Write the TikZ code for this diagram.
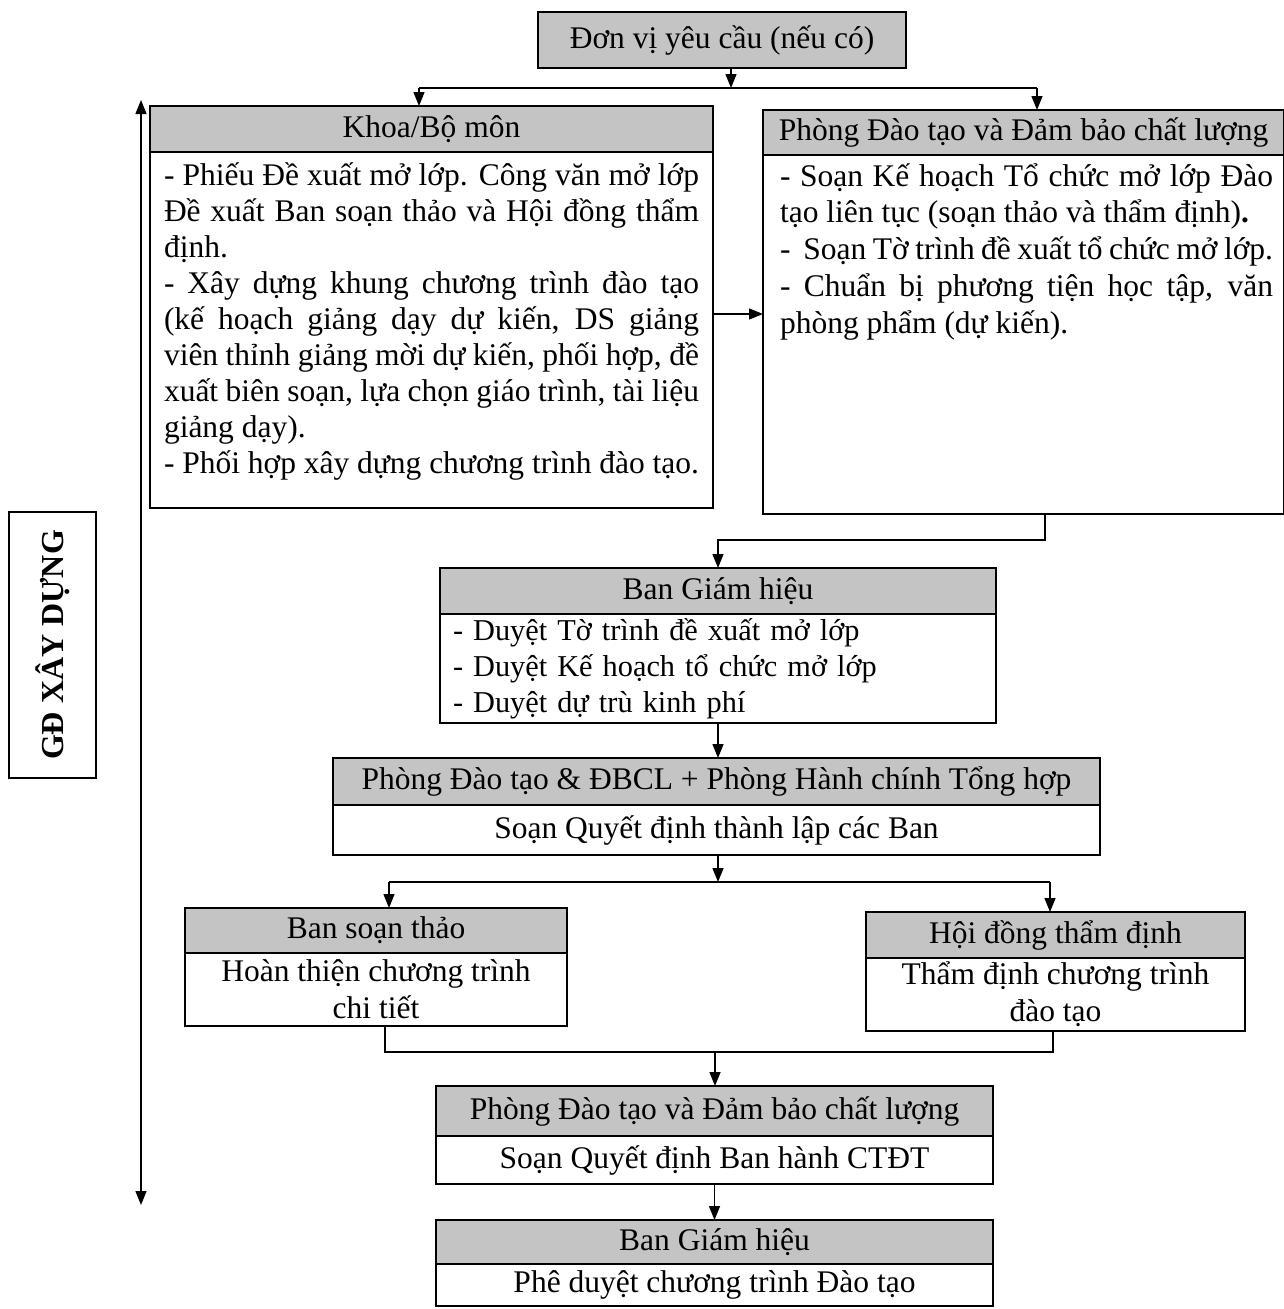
\documentclass[tikz,border=0pt]{standalone}
\usepackage{fontspec}
\setmainfont{Liberation Serif}
\usetikzlibrary{arrows.meta,calc}
\definecolor{hdrgray}{RGB}{196,196,196}
\newcommand\jl[1]{\makebox[\linewidth][s]{#1}}
\begin{document}
\begin{tikzpicture}[x=1pt,y=-1pt,
  every node/.style={font=\fontsize{31.5}{37}\selectfont, inner sep=0pt, outer sep=0pt},
  hdr/.style={draw, line width=1.3pt, fill=hdrgray, anchor=north west, align=center},
  bodybox/.style={draw, line width=1.3pt, fill=white, anchor=north west},
  arr/.style={line width=1.4pt, -{Triangle[length=14pt,width=11pt]}},
  ln/.style={line width=1.4pt}]
\useasboundingbox[fill=white] (0,0) rectangle (1284,1309);

% top box
\node[hdr, minimum width=368pt, minimum height=56pt] (t) at (538,12) {Đơn vị yêu cầu (nếu có)};

% Khoa/Bo mon
\node[hdr, minimum width=563pt, minimum height=46pt] (kh) at (150,106) {Khoa/Bộ môn};
\node[bodybox, minimum width=563pt, minimum height=356pt, inner xsep=14pt] (kb) at (kh.south west)
 {\fontsize{31.5}{36.1}\selectfont\parbox[c][356pt][t]{535pt}{\rule{0pt}{33pt}\jl{- Phiếu Đề xuất mở lớp. Công văn mở lớp}\\
 \jl{Đề xuất Ban soạn thảo và Hội đồng thẩm}\\
 định.\\
 \jl{- Xây dựng khung chương trình đào tạo}\\
 \jl{(kế hoạch giảng dạy dự kiến, DS giảng}\\
 \jl{viên thỉnh giảng mời dự kiến, phối hợp, đề}\\
 \jl{xuất biên soạn, lựa chọn giáo trình, tài liệu}\\
 giảng dạy).\\
 - Phối hợp xây dựng chương trình đào tạo.}};

% Phong Dao tao
\node[hdr, minimum width=521pt, minimum height=45pt] (ph) at (763,110) {Phòng Đào tạo và Đảm bảo chất lượng};
\node[bodybox, minimum width=521pt, minimum height=359pt] (pb) at (ph.south west)
 {\hspace*{17pt}\fontsize{31.5}{36.75}\selectfont\parbox[c][359pt][t]{493pt}{\rule{0pt}{31pt}\jl{- Soạn Kế hoạch Tổ chức mở lớp Đào}\\
 tạo liên tục (soạn thảo và thẩm định)\textbf{.}\\
 \jl{-\ \ Soạn Tờ trình đề xuất tổ chức mở lớp.}\\
 \jl{- Chuẩn bị phương tiện học tập, văn}\\
 phòng phẩm (dự kiến).}\hspace*{11pt}};

% GD XAY DUNG
\node[draw, line width=1.3pt, rotate=90, minimum width=266pt, minimum height=87pt,
  font=\bfseries\fontsize{32}{38}\selectfont] (gd) at (52.5,645) {GĐ XÂY DỰNG};

% Ban Giam hieu 1
\node[hdr, minimum width=556pt, minimum height=46pt] (bh) at (440,568) {Ban Giám hiệu};
\node[bodybox, minimum width=556pt, minimum height=109pt, inner xsep=13pt, text width=530pt, align=left,
  font=\fontsize{30.3}{36}\selectfont] (bb) at (bh.south west)
 {- Duyệt Tờ trình đề xuất mở lớp\\- Duyệt Kế hoạch tổ chức mở lớp\\- Duyệt dự trù kinh phí};

% Phong DT & DBCL + HC
\node[hdr, minimum width=767pt, minimum height=47pt] (p2h) at (333,758) {Phòng Đào tạo \& ĐBCL + Phòng Hành chính Tổng hợp};
\node[bodybox, minimum width=767pt, minimum height=50pt] (p2b) at (p2h.south west) {Soạn Quyết định thành lập các Ban};

% Ban soan thao
\node[hdr, minimum width=382pt, minimum height=45pt] (bsh) at (185,908) {Ban soạn thảo};
\node[bodybox, minimum width=382pt, minimum height=73pt, align=center] (bsb) at (bsh.south west) {Hoàn thiện chương trình\\chi tiết};

% Hoi dong tham dinh
\node[hdr, minimum width=379pt, minimum height=46pt] (hdh) at (866,912) {Hội đồng thẩm định};
\node[bodybox, minimum width=379pt, minimum height=73pt, align=center] (hdb) at (hdh.south west) {Thẩm định chương trình\\đào tạo};

% Phong DT va DBCL
\node[hdr, minimum width=557pt, minimum height=50pt] (p3h) at (436,1086) {Phòng Đào tạo và Đảm bảo chất lượng};
\node[bodybox, minimum width=557pt, minimum height=48pt] (p3b) at (p3h.south west) {Soạn Quyết định Ban hành CTĐT};

% Ban Giam hieu 2
\node[hdr, minimum width=557pt, minimum height=44pt] (p4h) at (436,1220) {Ban Giám hiệu};
\node[bodybox, minimum width=557pt, minimum height=42pt] (p4b) at (p4h.south west) {Phê duyệt chương trình Đào tạo};

% connectors
\coordinate (j1) at (731,88);
\coordinate (ja) at (419,88);
\coordinate (jb) at (1037,88);
\draw[arr] (t.south -| j1) -- (j1);
\draw[ln] (ja) -- (jb);
\draw[arr] (ja) -- (ja |- kh.north);
\draw[arr] (jb) -- (jb |- ph.north);

\coordinate (ya) at (0,314);
\draw[arr] (kb.east |- ya) -- (pb.west |- ya);

\coordinate (j2) at (1045,540);
\draw[arr] (j2 |- pb.south) -- (j2) -- (bh.north |- j2) -- (bh.north);

\draw[arr] (bb.south) -- (bb.south |- p2h.north);

\coordinate (j3) at (718,882);
\coordinate (j3a) at (389,882);
\coordinate (j3b) at (1050,882);
\draw[arr] (j3 |- p2b.south) -- (j3);
\draw[ln] (j3a) -- (j3b);
\draw[arr] (j3a) -- (j3a |- bsh.north);
\draw[arr] (j3b) -- (j3b |- hdh.north);

\coordinate (j4) at (715,1052);
\coordinate (j4a) at (385,1052);
\coordinate (j4b) at (1053,1052);
\draw[ln] (j4a |- bsb.south) -- (j4a) -- (j4b) -- (j4b |- hdb.south);
\draw[arr] (j4) -- (j4 |- p3h.north);

\draw[arr] (p3b.south) -- (p4h.north);

\coordinate (la) at (141,100);
\coordinate (lb) at (141,1205);
\draw[line width=1.4pt, {Triangle[length=14pt,width=11pt]}-{Triangle[length=14pt,width=11pt]}] (la) -- (lb);
\end{tikzpicture}
\end{document}
